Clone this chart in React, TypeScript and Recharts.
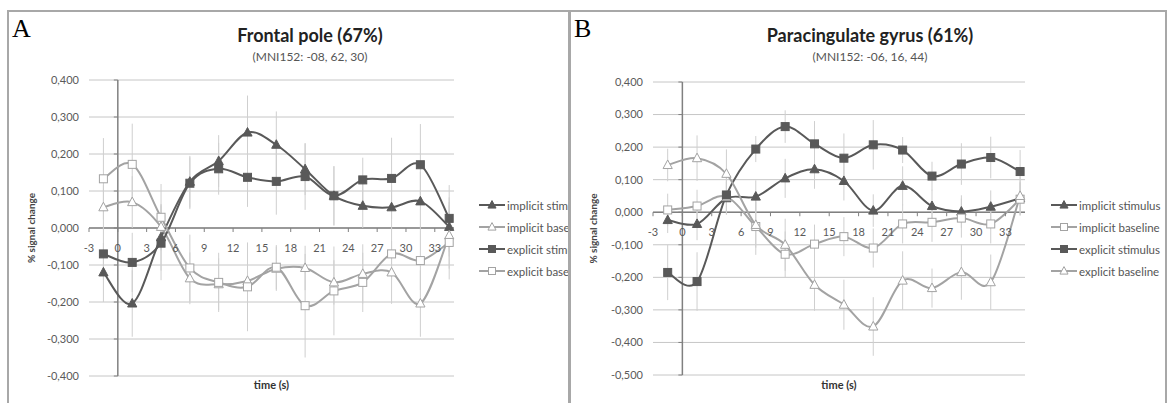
import React from "react";
import {
  LineChart,
  Line,
  XAxis,
  YAxis,
  CartesianGrid,
  ReferenceLine,
  ErrorBar,
  Legend,
} from "recharts";

const times = [-1.5, 1.5, 4.5, 7.5, 10.5, 13.5, 16.5, 19.5, 22.5, 25.5, 28.5, 31.5, 34.5];
const xTicks = [-3, 0, 3, 6, 9, 12, 15, 18, 21, 24, 27, 30, 33];
const yTicksA = [-0.4, -0.3, -0.2, -0.1, 0, 0.1, 0.2, 0.3, 0.4];
const yTicksB = [-0.5, -0.4, -0.3, -0.2, -0.1, 0, 0.1, 0.2, 0.3, 0.4];

// A - Frontal pole
const frontalImplicitStim = [-0.12, -0.204, -0.025, 0.125, 0.181, 0.258, 0.225, 0.159, 0.087, 0.06, 0.056, 0.072, 0.003];
const frontalImplicitStimErr = [0.08, 0.09, 0.09, 0.07, 0.07, 0.1, 0.09, 0.07, 0.08, 0.06, 0.06, 0.08, 0.08];
const frontalImplicitBase = [0.056, 0.07, 0.003, -0.136, -0.152, -0.143, -0.11, -0.108, -0.147, -0.124, -0.12, -0.204, -0.02];
const frontalImplicitBaseErr = [0.06, 0.07, 0.06, 0.07, 0.07, 0.08, 0.06, 0.06, 0.06, 0.08, 0.085, 0.09, 0.09];
const frontalExplicitStim = [-0.07, -0.093, -0.041, 0.121, 0.16, 0.137, 0.126, 0.139, 0.087, 0.13, 0.134, 0.171, 0.026];
const frontalExplicitStimErr = [0.07, 0.08, 0.1, 0.07, 0.07, 0.08, 0.09, 0.09, 0.08, 0.06, 0.11, 0.11, 0.09];
const frontalExplicitBase = [0.133, 0.172, 0.029, -0.108, -0.147, -0.159, -0.106, -0.21, -0.17, -0.147, -0.07, -0.088, -0.039];
const frontalExplicitBaseErr = [0.11, 0.11, 0.09, 0.09, 0.08, 0.12, 0.06, 0.14, 0.12, 0.08, 0.07, 0.08, 0.1];

// B - Paracingulate gyrus
const paraImplicitStim = [-0.024, -0.036, 0.043, 0.048, 0.104, 0.132, 0.096, 0.005, 0.081, 0.019, 0.002, 0.017, 0.043];
const paraImplicitStimErr = [0.04, 0.05, 0.05, 0.05, 0.06, 0.06, 0.06, 0.05, 0.06, 0.05, 0.05, 0.05, 0.05];
const paraImplicitBase = [0.007, 0.019, 0.048, -0.044, -0.129, -0.098, -0.075, -0.11, -0.036, -0.031, -0.018, -0.036, 0.04];
const paraImplicitBaseErr = [0.05, 0.05, 0.05, 0.087, 0.07, 0.06, 0.06, 0.06, 0.06, 0.06, 0.06, 0.06, 0.05];
const paraExplicitStim = [-0.185, -0.213, 0.053, 0.194, 0.263, 0.21, 0.166, 0.207, 0.191, 0.111, 0.148, 0.168, 0.125];
const paraExplicitStimErr = [0.085, 0.09, 0.06, 0.04, 0.05, 0.07, 0.076, 0.076, 0.04, 0.044, 0.064, 0.064, 0.066];
const paraExplicitBase = [0.145, 0.166, 0.118, -0.039, -0.1, -0.223, -0.284, -0.351, -0.21, -0.233, -0.184, -0.215, 0.05];
const paraExplicitBaseErr = [0.05, 0.07, 0.075, 0.07, 0.08, 0.08, 0.077, 0.09, 0.09, 0.06, 0.085, 0.085, 0.06];

const FONT = "Lato, 'Open Sans', sans-serif";
const DARK = "#595959";
const LIGHT = "#a3a3a3";
const ERR = "#cfcfcf";
const AXIS = "#808080";
const GRID = "#c6c6c6";
const X_MIN = -3;
const X_MAX = 35;
const CHART_H = 393;
const Y_AXIS_W = 50;

type Shape = "triangle" | "square";

interface Series {
  key: string;
  name: string;
  values: number[];
  errors: number[];
  color: string;
  shape: Shape;
  filled: boolean;
}

const frontalSeries: Series[] = [
  { key: "implicitStim", name: "implicit stimulus", values: frontalImplicitStim, errors: frontalImplicitStimErr, color: DARK, shape: "triangle", filled: true },
  { key: "implicitBase", name: "implicit baseline", values: frontalImplicitBase, errors: frontalImplicitBaseErr, color: LIGHT, shape: "triangle", filled: false },
  { key: "explicitStim", name: "explicit stimulus", values: frontalExplicitStim, errors: frontalExplicitStimErr, color: DARK, shape: "square", filled: true },
  { key: "explicitBase", name: "explicit baseline", values: frontalExplicitBase, errors: frontalExplicitBaseErr, color: LIGHT, shape: "square", filled: false },
];

const paraSeries: Series[] = [
  { key: "implicitStim", name: "implicit stimulus", values: paraImplicitStim, errors: paraImplicitStimErr, color: DARK, shape: "triangle", filled: true },
  { key: "implicitBase", name: "implicit baseline", values: paraImplicitBase, errors: paraImplicitBaseErr, color: LIGHT, shape: "square", filled: false },
  { key: "explicitStim", name: "explicit stimulus", values: paraExplicitStim, errors: paraExplicitStimErr, color: DARK, shape: "square", filled: true },
  { key: "explicitBase", name: "explicit baseline", values: paraExplicitBase, errors: paraExplicitBaseErr, color: LIGHT, shape: "triangle", filled: false },
];

function buildRows(series: Series[]) {
  return times.map((t, i) => {
    const row: Record<string, number> = { t };
    series.forEach((s) => {
      row[s.key] = s.values[i];
      row[s.key + "Err"] = s.errors[i];
    });
    return row;
  });
}

// Excel-like smoothed line (Catmull-Rom as bezier)
const excelSmooth = (context: any) => {
  let pts: number[][] = [];
  return {
    areaStart() {},
    areaEnd() {},
    lineStart() {
      pts = [];
    },
    point(x: number, y: number) {
      pts.push([x, y]);
    },
    lineEnd() {
      if (!pts.length) return;
      context.moveTo(pts[0][0], pts[0][1]);
      for (let i = 0; i < pts.length - 1; i++) {
        const p0 = pts[Math.max(i - 1, 0)];
        const p1 = pts[i];
        const p2 = pts[i + 1];
        const p3 = pts[Math.min(i + 2, pts.length - 1)];
        context.bezierCurveTo(
          p1[0] + (p2[0] - p0[0]) / 6,
          p1[1] + (p2[1] - p0[1]) / 6,
          p2[0] - (p3[0] - p1[0]) / 6,
          p2[1] - (p3[1] - p1[1]) / 6,
          p2[0],
          p2[1]
        );
      }
    },
  };
};

function Marker({ cx, cy, shape, filled, color, size = 8 }: { cx?: number; cy?: number; shape: Shape; filled: boolean; color: string; size?: number }) {
  if (cx == null || cy == null) return null;
  const fill = filled ? color : "#ffffff";
  if (shape === "square") {
    return <rect x={cx - size / 2} y={cy - size / 2} width={size} height={size} fill={fill} stroke={color} strokeWidth={1} />;
  }
  const s = size * 1.05;
  return (
    <polygon
      points={`${cx},${cy - s * 0.6} ${cx + s * 0.55},${cy + s * 0.42} ${cx - s * 0.55},${cy + s * 0.42}`}
      fill={fill}
      stroke={color}
      strokeWidth={1}
    />
  );
}

interface PanelProps {
  left: number;
  width: number;
  letter: string;
  title: string;
  subtitle: string;
  titleX: number;
  series: Series[];
  yDomain: [number, number];
  yTicks: number[];
  margin: { top: number; right: number; left: number };
  xAxisHeight: number;
  legendLeft: number;
}

function Panel({ left, width, letter, title, subtitle, titleX, series, yDomain, yTicks, margin, xAxisHeight, legendLeft }: PanelProps) {
  const data = buildRows(series);
  const plotLeft = margin.left + Y_AXIS_W;
  const plotW = width - plotLeft - margin.right;
  const plotH = CHART_H - margin.top - xAxisHeight;
  const zeroX = plotLeft + (plotW * (0 - X_MIN)) / (X_MAX - X_MIN);
  const zeroY = margin.top + (plotH * yDomain[1]) / (yDomain[1] - yDomain[0]);

  const XTick = (props: any) => (
    <g>
      <line x1={props.x} x2={props.x} y1={zeroY} y2={zeroY + 4} stroke={AXIS} />
      <text x={props.x} y={zeroY + 20} dy="0.35em" textAnchor="middle" fontSize={11} fill="#5a5a5a" fontFamily={FONT}>
        {props.payload.value}
      </text>
    </g>
  );

  const YTick = (props: any) => (
    <g>
      <line x1={zeroX - 4} x2={zeroX} y1={props.y} y2={props.y} stroke={AXIS} />
      <text x={props.x} y={props.y} dy="0.35em" textAnchor="end" fontSize={11} fill="#5a5a5a" fontFamily={FONT}>
        {props.payload.value.toFixed(3).replace(".", ",")}
      </text>
    </g>
  );

  const renderLegend = () => (
    <div style={{ fontFamily: FONT, fontSize: 11.5, color: "#555" }}>
      {series.map((s) => (
        <div key={s.key} style={{ display: "flex", alignItems: "center", height: 22, whiteSpace: "nowrap" }}>
          <svg width={26} height={12}>
            <line x1={0} x2={26} y1={6} y2={6} stroke={s.color} strokeWidth={2} />
            <Marker cx={13} cy={6} shape={s.shape} filled={s.filled} color={s.color} size={7} />
          </svg>
          <span style={{ marginLeft: 2 }}>{s.name}</span>
        </div>
      ))}
    </div>
  );

  return (
    <>
      <div style={{ position: "absolute", left, top: 10, width, height: CHART_H, overflow: "hidden" }}>
        <LineChart
          width={width}
          height={CHART_H}
          data={data}
          margin={{ top: margin.top, right: margin.right, left: margin.left, bottom: 0 }}
        >
          <CartesianGrid horizontal vertical={false} stroke={GRID} />
          <XAxis
            dataKey="t"
            type="number"
            domain={[X_MIN, X_MAX]}
            ticks={xTicks}
            interval={0}
            height={xAxisHeight}
            axisLine={false}
            tickLine={false}
            tickSize={0}
            tickMargin={0}
            tick={XTick}
            label={{
              content: (p: any) => (
                <text
                  x={p.viewBox.x + p.viewBox.width / 2}
                  y={CHART_H - 18}
                  dy="0.35em"
                  textAnchor="middle"
                  fontSize={11}
                  fontWeight={700}
                  fill="#333"
                  fontFamily={FONT}
                >
                  time (s)
                </text>
              ),
            }}
          />
          <YAxis
            type="number"
            domain={yDomain}
            ticks={yTicks}
            interval={0}
            width={Y_AXIS_W}
            axisLine={false}
            tickLine={false}
            tickSize={0}
            tickMargin={10}
            tick={YTick}
            label={{
              content: (p: any) => {
                const cy = p.viewBox.y + p.viewBox.height / 2;
                return (
                  <text
                    x={24}
                    y={cy}
                    dy="0.35em"
                    transform={`rotate(-90 24 ${cy})`}
                    textAnchor="middle"
                    fontSize={10}
                    fontWeight={700}
                    fill="#444"
                    fontFamily={FONT}
                  >
                    % signal change
                  </text>
                );
              },
            }}
          />
          <ReferenceLine x={0} stroke={AXIS} strokeWidth={1.5} />
          <ReferenceLine y={0} stroke={AXIS} strokeWidth={1.5} />
          <Legend
            content={renderLegend}
            layout="vertical"
            align="center"
            verticalAlign="middle"
            wrapperStyle={{ left: legendLeft, top: 184, width: 200 }}
          />
          {series.map((s) => (
            <Line
              key={s.key}
              dataKey={s.key}
              name={s.name}
              type={excelSmooth as any}
              stroke={s.color}
              strokeWidth={2}
              dot={(p: any) => (
                <Marker key={`${s.key}-${p.index}`} cx={p.cx} cy={p.cy} shape={s.shape} filled={s.filled} color={s.color} />
              )}
              activeDot={false}
              isAnimationActive={false}
            >
              <ErrorBar dataKey={s.key + "Err"} width={0} stroke={ERR} strokeWidth={1} direction="y" isAnimationActive={false} />
            </Line>
          ))}
        </LineChart>
        <div style={{ position: "absolute", left: 5, top: 6, fontFamily: "'Liberation Serif', serif", fontSize: 26, lineHeight: "26px", color: "#000" }}>
          {letter}
        </div>
        <div style={{ position: "absolute", left: titleX - 200, width: 400, top: 14, textAlign: "center", fontFamily: FONT, fontSize: 18, fontWeight: 700, lineHeight: "22px", color: "#222" }}>
          {title}
        </div>
        <div style={{ position: "absolute", left: titleX - 200, width: 400, top: 40, textAlign: "center", fontFamily: FONT, fontSize: 12, lineHeight: "14px", color: "#555" }}>
          {subtitle}
        </div>
      </div>
      <div style={{ position: "absolute", left, top: 10, width, height: 400, border: "2px solid #a8a8a8", boxSizing: "border-box", pointerEvents: "none" }} />
    </>
  );
}

export default function App() {
  return (
    <div style={{ position: "absolute", left: 0, top: 0, width: 1169, height: 403, background: "#fff", overflow: "hidden" }}>
      <Panel
        left={7}
        width={563}
        letter="A"
        title="Frontal pole (67%)"
        subtitle="(MNI152: -08, 62, 30)"
        titleX={303}
        series={frontalSeries}
        yDomain={[-0.4, 0.4]}
        yTicks={yTicksA}
        margin={{ top: 70, right: 116, left: 32 }}
        xAxisHeight={27}
        legendLeft={472}
      />
      <Panel
        left={569}
        width={598}
        letter="B"
        title="Paracingulate gyrus (61%)"
        subtitle="(MNI152: -06, 16, 44)"
        titleX={301}
        series={paraSeries}
        yDomain={[-0.5, 0.4]}
        yTicks={yTicksB}
        margin={{ top: 72, right: 142, left: 34 }}
        xAxisHeight={28}
        legendLeft={482}
      />
    </div>
  );
}
